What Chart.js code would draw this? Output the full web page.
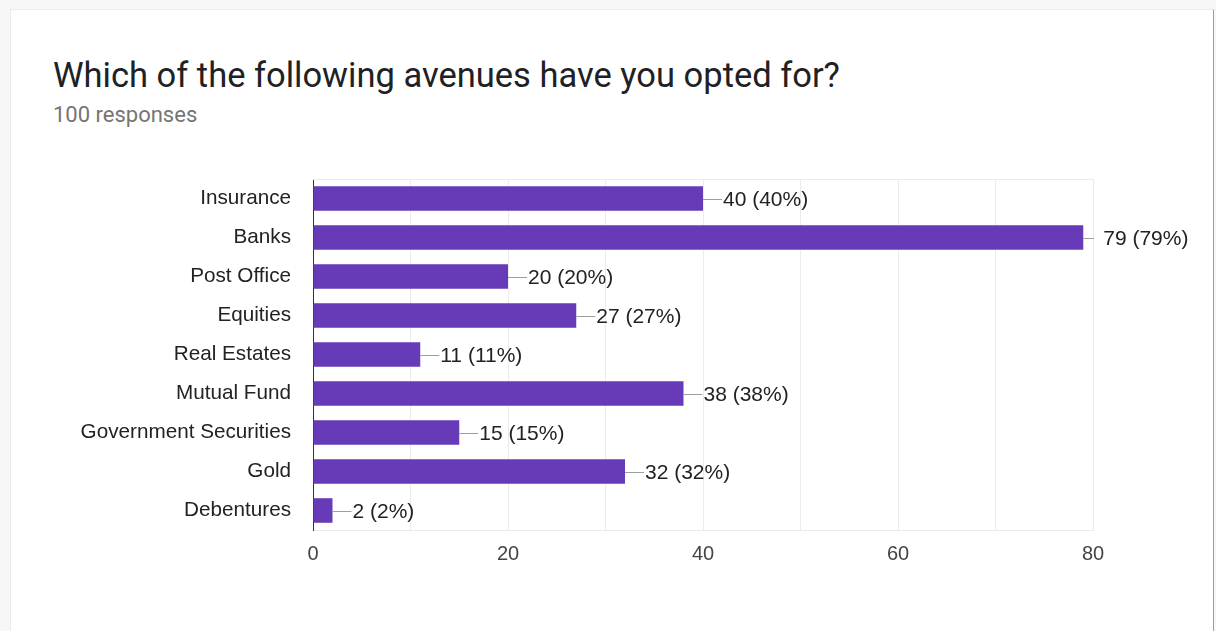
<!DOCTYPE html>
<html>
<head>
<meta charset="utf-8">
<script src="https://cdn.jsdelivr.net/npm/chart.js@4.4.1/dist/chart.umd.min.js"></script>
<style>
  html, body { margin: 0; padding: 0; width: 1216px; height: 631px; overflow: hidden; background: #f7f7f7; }
  .card {
    position: absolute; left: 10px; top: 9px; width: 1204px; height: 640px;
    background: #ffffff; border-top: 1px solid #ebebeb; border-left: 1px solid #ebebeb;
    border-right: 1px solid #9e9e9e; box-sizing: border-box;
  }
  .title {
    position: absolute; left: 53px; top: 58px; margin: 0; line-height: 1;
    font-family: Roboto, "Noto Sans", sans-serif; font-size: 34.5px; font-weight: 400; color: #202124;
    white-space: nowrap;
  }
  .subtitle {
    position: absolute; left: 53px; top: 104px; margin: 0; line-height: 1;
    font-family: Roboto, "Noto Sans", sans-serif; font-size: 22px; color: #757575;
    white-space: nowrap;
  }
  #chart { position: absolute; left: 0; top: 0; }
</style>
</head>
<body>
<div class="card"></div>
<h1 class="title">Which of the following avenues have you opted for?</h1>
<p class="subtitle">100 responses</p>
<canvas id="chart" width="1216" height="631"></canvas>
<script>
// Survey answers: number of respondents choosing each avenue
const avenues = ['Insurance', 'Banks', 'Post Office', 'Equities', 'Real Estates',
                 'Mutual Fund', 'Government Securities', 'Gold', 'Debentures'];
const counts = [40, 79, 20, 27, 11, 38, 15, 32, 2];
const totalResponses = 100;
const axisMax = 80;
const gridStep = 10;
const labelStep = 20;

const fontFamily = '"Liberation Sans", Arial, sans-serif';
const labelFont = '21px ' + fontFamily;

// Value annotations: a short grey stem from the bar tip, then "n (p%)"
const annotations = {
  id: 'annotations',
  afterDatasetsDraw(chart) {
    const ctx = chart.ctx;
    const area = chart.chartArea;
    const meta = chart.getDatasetMeta(0);
    ctx.save();
    ctx.font = labelFont;
    ctx.textBaseline = 'middle';
    ctx.textAlign = 'left';
    meta.data.forEach((bar, i) => {
      const v = counts[i];
      const x0 = bar.x;
      const y = Math.round(bar.y) + 0.5;
      const stemEnd = Math.min(x0 + 19, area.right + 1);
      ctx.strokeStyle = '#9e9e9e';
      ctx.lineWidth = 1;
      ctx.beginPath();
      ctx.moveTo(x0, y);
      ctx.lineTo(stemEnd, y);
      ctx.stroke();
      ctx.fillStyle = '#222222';
      const pct = Math.round(v / totalResponses * 100);
      ctx.fillText(v + ' (' + pct + '%)', x0 + 20, bar.y + 2);
    });
    ctx.restore();
  }
};

// Light frame line along the top of the plot area
const topFrame = {
  id: 'topFrame',
  beforeDatasetsDraw(chart) {
    const { ctx, chartArea: a } = chart;
    ctx.save();
    ctx.strokeStyle = '#ebebeb';
    ctx.lineWidth = 1;
    ctx.beginPath();
    ctx.moveTo(a.left, Math.round(a.top) + 0.5);
    ctx.lineTo(a.right, Math.round(a.top) + 0.5);
    ctx.stroke();
    ctx.restore();
  }
};

new Chart(document.getElementById('chart'), {
  type: 'bar',
  data: {
    labels: avenues,
    datasets: [{
      data: counts,
      backgroundColor: '#673ab7',
      borderWidth: 0,
      categoryPercentage: 1,
      barPercentage: 0.63
    }]
  },
  options: {
    indexAxis: 'y',
    responsive: false,
    animation: false,
    devicePixelRatio: 1,
    layout: { padding: { left: 53, right: 123, top: 179, bottom: 61 } },
    plugins: {
      legend: { display: false },
      tooltip: { enabled: false },
      title: { display: false }
    },
    scales: {
      x: {
        min: 0,
        max: axisMax,
        afterFit(scale) { scale.height = 40; },
        ticks: {
          stepSize: gridStep,
          autoSkip: false,
          maxRotation: 0,
          padding: 12,
          color: '#444444',
          font: { family: fontFamily, size: 20 },
          callback: (v) => (v % labelStep === 0 ? String(v) : '')
        },
        grid: { color: '#ebebeb', drawTicks: false, lineWidth: 1 },
        border: { display: true, color: '#ebebeb' }
      },
      y: {
        afterFit(scale) { scale.width = 260; },
        ticks: {
          padding: 22,
          autoSkip: false,
          color: '#222222',
          font: { family: fontFamily, size: 20.7 }
        },
        grid: { display: false, drawTicks: false },
        border: { display: true, color: '#333333', width: 1 }
      }
    }
  },
  plugins: [annotations, topFrame]
});
</script>
</body>
</html>
